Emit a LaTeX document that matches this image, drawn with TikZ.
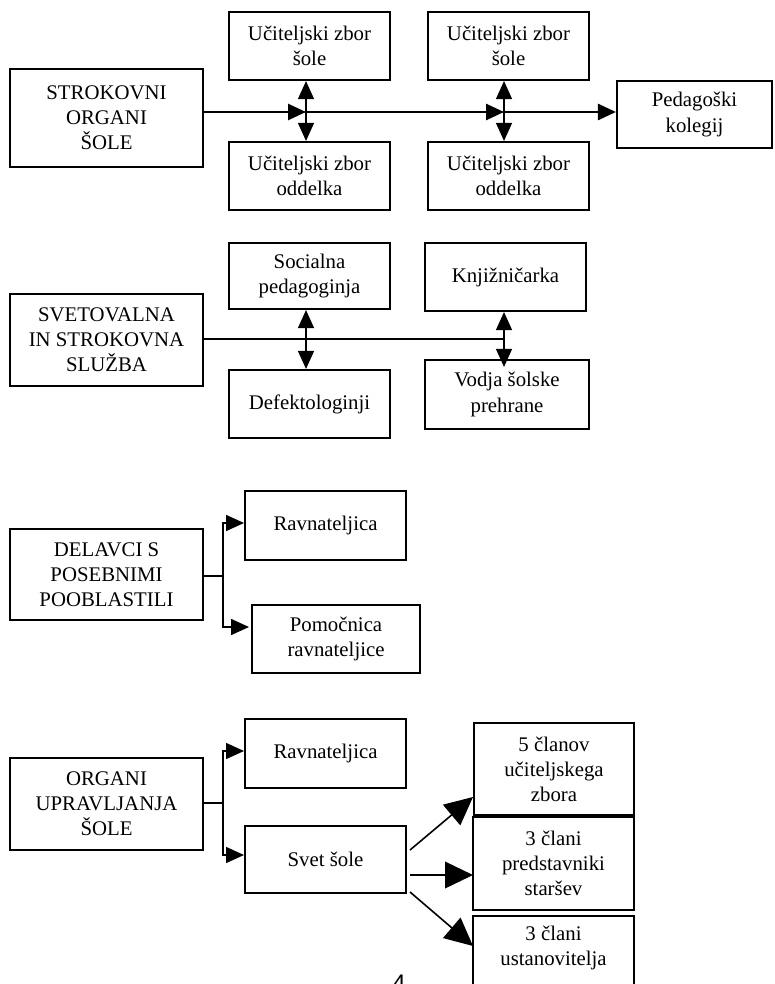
\documentclass[tikz,border=0pt]{standalone}
\usepackage{fontspec}
\setmainfont{Liberation Serif}
\newfontfamily\pnfont{Liberation Sans}
\usetikzlibrary{arrows.meta}
\tikzset{
  box/.style={draw, line width=1.6pt, align=center, inner sep=2pt,
    font=\fontsize{15.6pt}{18.8pt}\selectfont},
  tipA/.tip={Triangle[length=13.5pt, width=12pt]},
  tipB/.tip={Triangle[length=21pt, width=20pt]},
  thickline/.style={line width=2pt},
  thinline/.style={line width=0.9pt},
  midline/.style={line width=1.2pt},
}
\begin{document}
\begin{tikzpicture}[x=0.75pt,y=-0.75pt]
\useasboundingbox (0,0) rectangle (774,984);
\clip (0,0) rectangle (774,984);
% ---------- section 1 ----------
\node[box, minimum width=193*0.75pt, minimum height=98*0.75pt] (s1) at (106.5,118) {STROKOVNI\\ORGANI\\ŠOLE};
\node[box, minimum width=161*0.75pt, minimum height=68*0.75pt] (u1) at (309.5,46) {Učiteljski zbor\\šole};
\node[box, minimum width=161*0.75pt, minimum height=68*0.75pt] (o1) at (309.5,176) {Učiteljski zbor\\oddelka};
\node[box, minimum width=161*0.75pt, minimum height=68*0.75pt] (u2) at (508.5,46) {Učiteljski zbor\\šole};
\node[box, minimum width=161*0.75pt, minimum height=68*0.75pt] (o2) at (508.5,176) {Učiteljski zbor\\oddelka};
\node[box, minimum width=155*0.75pt, minimum height=67*0.75pt] (ped) at (694.5,114.5) {Pedagoški\\kolegij};
\coordinate (x1) at (306,112);
\coordinate (x2) at (504,112);
\draw[thickline, -tipA] (s1.east |- x1) -- (x1);
\draw[thickline, -tipA] (x1) -- (x2);
\draw[thickline, -tipA] (x2) -- (ped.west |- x2);
\draw[thinline, tipA-tipA] (u1.south -| x1) -- (o1.north -| x1);
\draw[thinline, tipA-tipA] (u2.south -| x2) -- (o2.north -| x2);
% ---------- section 2 ----------
\node[box, minimum width=193*0.75pt, minimum height=92*0.75pt] (s2) at (106.5,340) {SVETOVALNA\\IN STROKOVNA\\SLUŽBA};
\node[box, minimum width=161*0.75pt, minimum height=66*0.75pt] (soc) at (309.5,276) {Socialna\\pedagoginja};
\node[box, minimum width=161*0.75pt, minimum height=68*0.75pt] (def) at (309.5,404) {Defektologinji};
\node[box, minimum width=161*0.75pt, minimum height=68*0.75pt] (knj) at (505.5,277) {Knjižničarka};
\node[box, minimum width=164*0.75pt, minimum height=69*0.75pt] (vod) at (507,394.5) {Vodja šolske\\prehrane};
\coordinate (y1) at (306,339);
\coordinate (y2) at (504,339);
\draw[thinline] (s2.east |- y1) -- (y2);
\draw[thinline, tipA-tipA] (soc.south -| y1) -- (def.north -| y1);
\draw[thinline, tipA-tipA, shorten >=-6pt] (knj.south -| y2) -- (vod.north -| y2);
% ---------- section 3 ----------
\node[box, minimum width=193*0.75pt, minimum height=91*0.75pt] (s3) at (106.5,574.5) {DELAVCI S\\POSEBNIMI\\POOBLASTILI};
\node[box, minimum width=161*0.75pt, minimum height=69*0.75pt] (rav1) at (325.5,525.5) {Ravnateljica};
\node[box, minimum width=168*0.75pt, minimum height=68*0.75pt] (pom) at (336,639) {Pomočnica\\ravnateljice};
\coordinate (b3) at (223,576);
\coordinate (p3a) at (244,523);
\coordinate (p3b) at (249,627);
\draw[midline] (s3.east |- b3) -- (b3);
\draw[midline, -tipA] (b3) |- (p3a);
\draw[midline, -tipA] (b3) |- (p3b);
% ---------- section 4 ----------
\node[box, minimum width=193*0.75pt, minimum height=92*0.75pt] (s4) at (106.5,804) {ORGANI\\UPRAVLJANJA\\ŠOLE};
\node[box, minimum width=161*0.75pt, minimum height=69*0.75pt] (rav2) at (325.5,753.5) {Ravnateljica};
\node[box, minimum width=161*0.75pt, minimum height=67*0.75pt] (svet) at (325.5,859.5) {Svet šole};
\node[box, minimum width=160*0.75pt, minimum height=92*0.75pt] (c5) at (554,769) {5 članov\\učiteljskega\\zbora};
\node[box, minimum width=161*0.75pt, minimum height=93*0.75pt] (c3p) at (553.5,863.5) {3 člani\\predstavniki\\staršev};
\node[box, minimum width=161*0.75pt, minimum height=84*0.75pt, anchor=north] (c3u) at (553.5,915) {3 člani\\ustanovitelja\\\mbox{}};
\coordinate (b4) at (223,803);
\coordinate (q4a) at (244,751);
\coordinate (q4b) at (244,855);
\draw[midline] (s4.east |- b4) -- (b4);
\draw[midline, -tipA] (b4) |- (q4a);
\draw[midline, -tipA] (b4) |- (q4b);
\coordinate (d1s) at (410,850);
\coordinate (d1e) at (473,797);
\coordinate (d2s) at (410,875);
\coordinate (d2e) at (473,875);
\coordinate (d3s) at (410,892);
\coordinate (d3e) at (473,946);
\draw[midline, -tipB] (d1s) -- (d1e);
\draw[midline, -tipB] (d2s) -- (d2e);
\draw[midline, -tipB] (d3s) -- (d3e);
% page number
\node[inner sep=0pt, anchor=north, font=\pnfont\fontsize{18pt}{20pt}\selectfont] (pn) at (399,975) {4};
\end{tikzpicture}
\end{document}
